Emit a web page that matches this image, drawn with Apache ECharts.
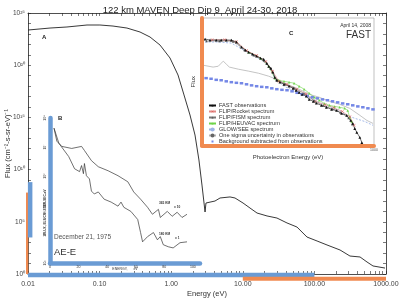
<!DOCTYPE html>
<html>
<head>
<meta charset="utf-8">
<script src="https://cdn.jsdelivr.net/npm/echarts@6/dist/echarts.min.js"></script>
<style>html,body{margin:0;padding:0;background:#fff}#chart{width:400px;height:299px}</style>
</head>
<body>
<div id="chart"></div>
<script>
// panel A: MAVEN model spectrum, energy (eV) and log10 flux
var aEnergy = [0.01, 0.0203, 0.035, 0.0667, 0.101, 0.154, 0.241, 0.367, 0.506, 0.698,
    0.962, 1.245, 1.51, 1.83, 2.15, 2.44, 2.69, 2.97, 3.06, 4.09,
    4.81, 6.63, 7.78, 10.07, 12.6, 15.8, 21.8, 30.0, 41.4, 57.1,
    78.8, 109, 150, 228, 314, 434, 543, 658, 968];
var aFlux = [23.37, 23.56, 23.66, 23.85, 23.85, 23.75, 23.56, 23.18, 22.70, 21.93,
    20.69, 19.06, 17.15, 15.23, 13.31, 10.92, 8.52, 5.94, 6.80, 6.99,
    7.28, 7.38, 7.28, 6.80, 6.32, 5.84, 5.56, 5.36, 4.89, 4.50,
    3.54, 3.16, 2.78, 2.30, 1.72, 1.63, 1.15, 0.77, 0.57];

// ranges highlighted on the main axes (energy eV / log10 flux)
var rangeEnergyB = [0.01, 100];
var rangeEnergyC = [10, 1000];
var rangeFluxB = [3.5, 8.8];
var rangeFluxC = [0, 7.8];

// panel B: AE-E, linear energy (eV), log10 flux
var b365Energy = [2.8, 4.8, 8.3, 15.2, 22.1, 24.1, 29.0, 33.8, 40.7, 47.6, 54.5, 58.6, 63.4, 68.3, 71.7, 75.9, 77.2, 82.1, 85.5, 89.0, 92.4, 95.9];
var b365Flux = [7.65, 7.20, 7.02, 6.95, 7.02, 6.88, 6.53, 6.32, 6.18, 6.01, 5.80, 5.45, 5.20, 4.92, 4.68, 4.85, 4.57, 4.78, 4.61, 4.75, 4.57, 4.68];
var b180Energy = [2.8, 6.2, 13.1, 17.2, 20.7, 22.1, 23.4, 24.1, 25.5, 27.6, 29.0, 31.0, 33.8, 37.9, 42.8, 47.6, 49.7, 51.7, 56.6, 61.4, 63.4, 64.8, 68.3, 72.4, 75.2, 77.2, 79.3, 82.8, 86.2, 91.0, 95.9];
var b180Flux = [7.65, 7.13, 6.67, 6.25, 6.15, 6.36, 6.08, 6.43, 6.01, 5.90, 5.48, 5.38, 5.45, 5.20, 5.10, 4.96, 5.10, 4.92, 4.78, 4.50, 4.05, 3.73, 3.91, 4.05, 3.80, 3.91, 3.63, 3.56, 3.52, 3.70, 3.73];

// panel C: FAST comparison, energy (eV), log10 flux
var fastEnergy = [1.13, 1.38, 1.77, 2.16, 2.65, 3.25, 3.98, 4.88, 5.74, 6.49,
    7.62, 8.97, 10.5, 11.9, 13.5, 14.6, 15.8, 17.2, 18.6, 20.2,
    22.9, 26.9, 33.0, 38.7, 43.8, 49.4, 55.8, 65.8, 74.1, 87.3,
    98.6, 121, 148, 182, 222, 272, 334, 393, 426, 462, 501, 566, 614];
var fastFlux = [9.01, 8.96, 8.96, 8.96, 8.96, 8.96, 8.87, 8.63, 8.49, 8.39,
    8.30, 8.21, 8.11, 8.06, 7.87, 7.73, 7.64, 7.45, 7.21, 7.07,
    6.98, 6.88, 6.79, 6.69, 6.60, 6.50, 6.41, 6.32, 6.17, 6.08,
    5.99, 5.89, 5.80, 5.70, 5.65, 5.51, 5.42, 5.18, 5.04, 4.80, 4.62, 4.38, 4.14];
var rocketEnergy = [1.5, 2.5, 4, 6, 9, 13, 17, 22, 30, 45, 65, 95, 140, 200, 280, 380, 450];
var rocketFlux = [8.98, 8.98, 8.88, 8.47, 8.23, 7.95, 7.50, 7.02, 6.88, 6.65, 6.42, 6.08, 5.92, 5.78, 5.60, 5.35, 4.95];
var fismEnergy = [1.2, 2, 3.5, 5.5, 8, 12, 16, 20, 28, 40, 60, 90, 130, 190, 260, 360, 420];
var fismFlux = [8.92, 8.92, 8.90, 8.50, 8.25, 8.00, 7.62, 7.10, 6.90, 6.72, 6.45, 6.12, 5.88, 5.72, 5.55, 5.30, 5.00];
var heuvacEnergy = [6.49, 10.5, 14.6, 18.6, 21.9, 26.9, 33.0, 40.3, 49.4, 60.5, 74.1, 90.9, 111, 136, 167, 205, 251, 308, 348, 377, 409];
var heuvacFlux = [8.39, 8.11, 7.73, 7.17, 7.07, 7.02, 6.98, 6.93, 6.79, 6.65, 6.46, 6.27, 6.13, 5.98, 5.89, 5.84, 5.80, 5.75, 5.65, 5.32, 5.13];
var glowEnergy = [1.13, 1.92, 3.25, 4.32, 6.49, 10.5, 14.6, 18.6, 26.9, 49.4, 111, 251, 334, 462, 689, 960];
var glowFlux = [8.87, 8.87, 8.82, 8.63, 8.35, 8.06, 7.73, 7.17, 6.79, 6.46, 6.03, 5.65, 5.42, 5.28, 5.13, 4.95];
var sigmaEnergy = [1.04, 1.56, 1.92, 2.16, 2.35, 2.65, 3.00, 4.32, 6.49, 9.73, 14.6, 21.9, 33.0, 49.4, 74.1, 111, 167, 251, 377, 566, 752, 960];
var sigmaFlux = [7.78, 7.69, 7.73, 7.87, 7.97, 7.83, 7.69, 7.59, 7.50, 7.40, 7.26, 7.07, 6.84, 6.65, 6.41, 6.27, 6.08, 5.94, 5.75, 5.42, 5.18, 5.04];
var bgEnergy = [1.18, 1.44, 1.77, 2.16, 2.65, 3.25, 3.98, 4.88, 5.98, 7.32, 8.97, 11.0, 13.5, 16.5, 20.2, 24.8, 30.4, 37.2, 45.6, 55.8, 68.4, 83.8, 103, 126, 154, 189, 232, 284, 348, 426, 522, 639, 783, 960];
var bgFlux = [7.17, 7.14, 7.09, 7.07, 7.02, 6.98, 6.95, 6.93, 6.88, 6.83, 6.79, 6.76, 6.74, 6.69, 6.65, 6.62, 6.60, 6.55, 6.48, 6.41, 6.34, 6.27, 6.22, 6.17, 6.13, 6.08, 6.03, 5.98, 5.94, 5.89, 5.84, 5.80, 5.75, 5.70];

var cNames = ['FAST observations', 'FLIP/Rocket spectrum', 'FLIP/FISM spectrum', 'FLIP/HEUVAC spectrum',
    'GLOW/SEE spectrum', 'One sigma uncertainty in observations', 'Background subtracted from observations'];

var FONT = '"Liberation Sans", Arial, sans-serif';
var ORANGE = '#f08a50';
var BLUE = '#6a9bd4';

function logPairs(e, f) {
    return e.map(function (v, i) { return [Math.log10(v), f[i]]; });
}
function linPairs(e, f) {
    return e.map(function (v, i) { return [v, f[i]]; });
}
function sup(n) {
    var m = '⁰¹²³⁴⁵⁶⁷⁸⁹';
    return String(n).split('').map(function (c) { return c === '-' ? '⁻' : m[+c]; }).join('');
}

var logTicks = [];
for (var d = -2; d < 3; d++) {
    for (var k = 1; k < 10; k++) logTicks.push(Math.log10(k * Math.pow(10, d)));
}
logTicks.push(3);
var decades = [];
for (var i = 0; i <= 25; i++) decades.push(i);

var chart = echarts.init(document.getElementById('chart'));

var option = {
    animation: false,
    backgroundColor: '#fff',
    textStyle: {fontFamily: FONT},
    title: {
        text: '122 km MAVEN Deep Dip 9  April 24-30, 2018',
        left: 'center', top: 0,
        textStyle: {fontSize: 9.5, fontWeight: 'normal', color: '#222', fontFamily: FONT}
    },
    legend: {
        data: cNames,
        orient: 'vertical',
        left: 208, top: 102.5,
        padding: 0,
        itemWidth: 7, itemHeight: 2.5, itemGap: 0,
        selectedMode: false,
        z: 10,
        textStyle: {fontSize: 5.6, color: '#333', padding: [0, 0, 0, -2], fontFamily: FONT}
    },
    grid: [
        {left: 28, right: 14, top: 13, bottom: 25, outerBoundsMode: 'none', containLabel: false},
        {left: 50, right: 200, top: 118, bottom: 36, outerBoundsMode: 'none', containLabel: false},
        {left: 202, right: 26, top: 18, bottom: 153.5, show: true, z: 3, outerBoundsMode: 'none', containLabel: false,
            backgroundColor: '#fff', borderColor: '#999', borderWidth: 0.6}
    ],
    xAxis: [
        {
            type: 'value', gridIndex: 0, min: -2, max: 3,
            axisLine: {onZero: false, lineStyle: {color: '#222', width: 0.8}},
            axisTick: {inside: true, length: 3, customValues: logTicks, lineStyle: {color: '#222', width: 0.6}},
            axisLabel: {customValues: [-2, -1, 0, 1, 2, 3], fontSize: 7, color: '#444', margin: 7,
                formatter: function (v) { return Math.pow(10, v).toFixed(2); }},
            splitLine: {show: false},
            name: 'Energy (eV)', nameLocation: 'middle', nameGap: 16, nameMoveOverlap: false,
            nameTextStyle: {fontSize: 7.5, color: '#333'}
        },
        {
            type: 'value', gridIndex: 0, min: -2, max: 3, position: 'top',
            axisLine: {onZero: false, lineStyle: {color: '#222', width: 0.8}},
            axisTick: {inside: true, length: 3, customValues: logTicks, lineStyle: {color: '#222', width: 0.6}},
            axisLabel: {show: false}, splitLine: {show: false}
        },
        {
            type: 'value', gridIndex: 1, min: 0, max: 105,
            axisLine: {onZero: false, lineStyle: {color: BLUE, width: 4.5}},
            axisTick: {show: false},
            axisLabel: {customValues: [0, 20, 40, 60, 80, 100], fontSize: 3.5, color: '#333', margin: 2},
            splitLine: {show: false},
            name: 'ENERGY,      eV', nameLocation: 'middle', nameGap: 4, nameMoveOverlap: false,
            nameTextStyle: {fontSize: 3.5, color: '#333'}
        },
        {
            type: 'value', gridIndex: 2, min: 0, max: 3, z: 5,
            axisLine: {onZero: false, lineStyle: {color: ORANGE, width: 4}},
            axisTick: {show: false},
            axisLabel: {customValues: [3], fontSize: 3.5, color: '#555', margin: 3,
                formatter: function (v) { return String(Math.pow(10, v)); }},
            splitLine: {show: false},
            name: 'Photoelectron Energy (eV)', nameLocation: 'middle', nameGap: 9, nameMoveOverlap: false,
            nameTextStyle: {fontSize: 6, color: '#333'}
        }
    ],
    yAxis: [
        {
            type: 'value', gridIndex: 0, min: 0, max: 25,
            axisLine: {onZero: false, lineStyle: {color: '#222', width: 0.8}},
            axisTick: {inside: true, length: 3, customValues: decades, lineStyle: {color: '#222', width: 0.6}},
            axisLabel: {customValues: [0, 5, 10, 15, 20, 25], fontSize: 6.5, color: '#444', margin: 3,
                formatter: function (v) { return '10' + sup(v); }},
            splitLine: {show: false},
            name: 'Flux (cm⁻²-s-sr-eV)⁻¹', nameLocation: 'middle', nameGap: 16, nameMoveOverlap: false,
            nameTextStyle: {fontSize: 7.5, color: '#333'}
        },
        {
            type: 'value', gridIndex: 0, min: 0, max: 25, position: 'right',
            axisLine: {onZero: false, lineStyle: {color: '#222', width: 0.8}},
            axisTick: {inside: true, length: 3, customValues: decades, lineStyle: {color: '#222', width: 0.6}},
            axisLabel: {show: false}, splitLine: {show: false}
        },
        {
            type: 'value', gridIndex: 1, min: 3, max: 8,
            axisLine: {onZero: false, lineStyle: {color: BLUE, width: 4.5}},
            axisTick: {show: false},
            axisLabel: {customValues: [3, 4, 5, 6, 7, 8], fontSize: 3.5, color: '#333', margin: 3, rotate: 90,
                formatter: function (v) { return '10' + sup(v); }},
            splitLine: {show: false}
        },
        {
            type: 'value', gridIndex: 2, min: 4, max: 10, z: 5,
            axisLine: {onZero: false, lineStyle: {color: ORANGE, width: 4}},
            axisTick: {show: false},
            axisLabel: {show: false},
            splitLine: {show: false},
            name: 'Flux', nameLocation: 'middle', nameGap: 6, nameMoveOverlap: false,
            nameTextStyle: {fontSize: 6, color: '#333'}
        }
    ],
    series: [
        {
            type: 'line', xAxisIndex: 0, yAxisIndex: 0, data: logPairs(aEnergy, aFlux),
            showSymbol: false, lineStyle: {color: '#222', width: 0.9}, z: 2, silent: true
        },
        // range bars along the main axes
        {
            type: 'line', xAxisIndex: 0, yAxisIndex: 0, clip: false, silent: true, showSymbol: false, z: 3,
            data: [[Math.log10(rangeEnergyB[0]), -0.1], [Math.log10(rangeEnergyB[1]), -0.1]],
            lineStyle: {color: BLUE, width: 4.5, cap: 'butt'}
        },
        {
            type: 'line', xAxisIndex: 0, yAxisIndex: 0, clip: false, silent: true, showSymbol: false, z: 3,
            data: [[Math.log10(rangeEnergyC[0]), -0.45], [Math.log10(rangeEnergyC[1]), -0.45]],
            lineStyle: {color: ORANGE, width: 4, cap: 'butt'}
        },
        {
            type: 'line', xAxisIndex: 0, yAxisIndex: 0, clip: false, silent: true, showSymbol: false, z: 3,
            data: [[-2.02, rangeFluxC[0]], [-2.02, rangeFluxC[1]]],
            lineStyle: {color: ORANGE, width: 3.5, cap: 'butt'}
        },
        {
            type: 'line', xAxisIndex: 0, yAxisIndex: 0, clip: false, silent: true, showSymbol: false, z: 3,
            data: [[-1.97, rangeFluxB[0]], [-1.97, rangeFluxB[1]]],
            lineStyle: {color: BLUE, width: 4.5, cap: 'butt'}
        },
        // panel B
        {
            type: 'line', xAxisIndex: 2, yAxisIndex: 2, data: linPairs(b365Energy, b365Flux),
            showSymbol: false, lineStyle: {color: '#333', width: 0.7}, silent: true
        },
        {
            type: 'line', xAxisIndex: 2, yAxisIndex: 2, data: linPairs(b180Energy, b180Flux),
            showSymbol: false, lineStyle: {color: '#333', width: 0.7}, silent: true
        },
        // panel C
        {
            name: cNames[5], type: 'line', xAxisIndex: 3, yAxisIndex: 3, z: 4,
            data: logPairs(sigmaEnergy, sigmaFlux), showSymbol: false,
            itemStyle: {color: '#666'}, lineStyle: {color: '#b5b5b5', width: 0.8}
        },
        {
            name: cNames[6], type: 'line', xAxisIndex: 3, yAxisIndex: 3, z: 4,
            data: logPairs(bgEnergy, bgFlux), symbol: 'rect', symbolSize: [3.5, 2.5],
            itemStyle: {color: '#7487e6'}, lineStyle: {width: 0}
        },
        {
            name: cNames[4], type: 'line', xAxisIndex: 3, yAxisIndex: 3, z: 4,
            data: logPairs(glowEnergy, glowFlux), showSymbol: false,
            itemStyle: {color: '#9db4e6'}, lineStyle: {color: '#9db4e6', width: 0.9, type: [2, 1.5]}
        },
        {
            name: cNames[3], type: 'line', xAxisIndex: 3, yAxisIndex: 3, z: 4,
            data: logPairs(heuvacEnergy, heuvacFlux), symbol: 'triangle', symbolSize: 2.5,
            itemStyle: {color: '#6fd34a'}, lineStyle: {color: '#6fd34a', width: 0.6}
        },
        {
            name: cNames[1], type: 'line', xAxisIndex: 3, yAxisIndex: 3, z: 4,
            data: logPairs(rocketEnergy, rocketFlux),
            symbol: 'path://M0,1L1,0L5,4L9,0L10,1L6,5L10,9L9,10L5,6L1,10L0,9L4,5Z', symbolSize: 3,
            itemStyle: {color: '#d9534f'}, lineStyle: {color: '#e38a86', width: 0.6}
        },
        {
            name: cNames[2], type: 'line', xAxisIndex: 3, yAxisIndex: 3, z: 4,
            data: logPairs(fismEnergy, fismFlux), symbol: 'triangle', symbolSize: 2.5,
            itemStyle: {color: '#555'}, lineStyle: {color: '#777', width: 0.5}
        },
        {
            name: cNames[0], type: 'line', xAxisIndex: 3, yAxisIndex: 3, z: 4,
            data: logPairs(fastEnergy, fastFlux), symbol: 'triangle', symbolSize: 2.8,
            itemStyle: {color: '#111'}, lineStyle: {color: '#111', width: 0.6}
        }
    ],
    graphic: [
        {type: 'text', x: 42, y: 34, z: 20, style: {text: 'A', fontSize: 6, fontWeight: 'bold', fill: '#222', fontFamily: FONT}},
        {type: 'text', x: 58, y: 115, z: 20, style: {text: 'B', fontSize: 6, fontWeight: 'bold', fill: '#222', fontFamily: FONT}},
        {type: 'text', x: 289, y: 30, z: 20, style: {text: 'C', fontSize: 6, fontWeight: 'bold', fill: '#222', fontFamily: FONT}},
        {type: 'text', x: 371, y: 23, z: 20, style: {text: 'April 14, 2008', fontSize: 5, fill: '#333', align: 'right', fontFamily: FONT}},
        {type: 'text', x: 371, y: 30, z: 20, style: {text: 'FAST', fontSize: 10, fill: '#333', align: 'right', fontFamily: FONT}},
        {type: 'text', x: 54, y: 234, z: 20, style: {text: 'December 21, 1975', fontSize: 6.5, fill: '#555', fontFamily: FONT}},
        {type: 'text', x: 54, y: 247, z: 20, style: {text: 'AE-E', fontSize: 9.5, fill: '#333', fontFamily: FONT}},
        {type: 'text', x: 159, y: 202, z: 20, style: {text: '365 KM', fontSize: 3.2, fontWeight: 'bold', fill: '#333', fontFamily: FONT}},
        {type: 'text', x: 174, y: 206, z: 20, style: {text: 'x 10', fontSize: 3.2, fontWeight: 'bold', fill: '#333', fontFamily: FONT}},
        {type: 'text', x: 159, y: 233, z: 20, style: {text: '180 KM', fontSize: 3.2, fontWeight: 'bold', fill: '#333', fontFamily: FONT}},
        {type: 'text', x: 175, y: 237, z: 20, style: {text: 'x 1', fontSize: 3.2, fontWeight: 'bold', fill: '#333', fontFamily: FONT}},
        {type: 'text', x: 45.5, y: 212, rotation: Math.PI / 2, z: 20,
            style: {text: 'FLUX, ELS/CM²-STER-SEC-eV', fontSize: 3.2, fontWeight: 'bold', fill: '#333',
                align: 'center', verticalAlign: 'middle', fontFamily: FONT}}
    ]
};

chart.setOption(option);
</script>
</body>
</html>
